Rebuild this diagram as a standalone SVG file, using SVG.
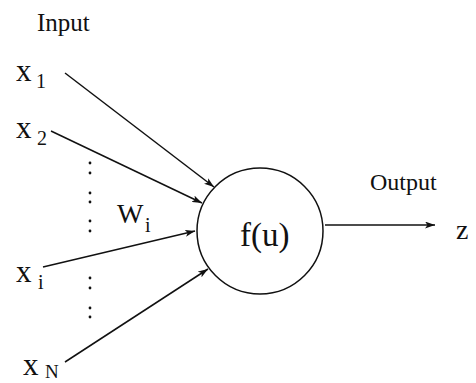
<svg xmlns="http://www.w3.org/2000/svg" width="476" height="383" viewBox="0 0 476 383">
  <defs>
    <marker id="ah" markerUnits="userSpaceOnUse" markerWidth="10" markerHeight="7" refX="10" refY="3.5" orient="auto">
      <path d="M0,0 L10,3.5 L0,7 L2.5,3.5 Z" fill="#111"/>
    </marker>
    <style>
      .t { font-family: "Liberation Serif", "Times New Roman", serif; fill: #111; }
      .ln { stroke: #111; stroke-width: 1.5; fill: none; marker-end: url(#ah); }
      .dot { fill: #111; }
    </style>
  </defs>
  <rect width="476" height="383" fill="#fff"/>

  <g id="connectors">
    <line class="ln" x1="65" y1="73" x2="214" y2="187"/>
    <line class="ln" x1="51" y1="131" x2="202" y2="203"/>
    <line class="ln" x1="43" y1="267" x2="195" y2="231"/>
    <line class="ln" x1="65" y1="362" x2="208" y2="269"/>
    <line class="ln" x1="325" y1="225" x2="435" y2="225"/>
  </g>

  <g id="neuron">
    <circle cx="260" cy="231" r="63" fill="none" stroke="#111" stroke-width="1.5"/>
    <text class="t" x="240" y="246" font-size="33">f(u)</text>
  </g>

  <g id="input-label"><text class="t" x="37" y="31" font-size="25">Input</text></g>
  <g id="output-label"><text class="t" x="370" y="190" font-size="24">Output</text></g>

  <g id="x1">
    <text class="t" x="16" y="81" font-size="31">x</text>
    <text class="t" x="36" y="88" font-size="20">1</text>
  </g>
  <g id="x2">
    <text class="t" x="16" y="138" font-size="31">x</text>
    <text class="t" x="37" y="145" font-size="20">2</text>
  </g>
  <g id="xi">
    <text class="t" x="16" y="282" font-size="31">x</text>
    <text class="t" x="38" y="289" font-size="20">i</text>
  </g>
  <g id="xN">
    <text class="t" x="23" y="375" font-size="31">x</text>
    <text class="t" x="45" y="378" font-size="19">N</text>
  </g>
  <g id="weight">
    <text class="t" x="117" y="223" font-size="28">W</text>
    <text class="t" x="145" y="232" font-size="20">i</text>
  </g>
  <g id="z">
    <text class="t" x="456" y="239" font-size="28">z</text>
  </g>

  <g id="dots">
    <circle class="dot" cx="90" cy="163" r="1.4"/>
    <circle class="dot" cx="90" cy="173" r="1.4"/>
    <circle class="dot" cx="90" cy="193" r="1.4"/>
    <circle class="dot" cx="90" cy="202" r="1.4"/>
    <circle class="dot" cx="90" cy="221" r="1.4"/>
    <circle class="dot" cx="90" cy="231" r="1.4"/>
    <circle class="dot" cx="90" cy="278" r="1.4"/>
    <circle class="dot" cx="90" cy="288" r="1.4"/>
    <circle class="dot" cx="90" cy="308" r="1.4"/>
    <circle class="dot" cx="90" cy="317" r="1.4"/>
  </g>
</svg>
